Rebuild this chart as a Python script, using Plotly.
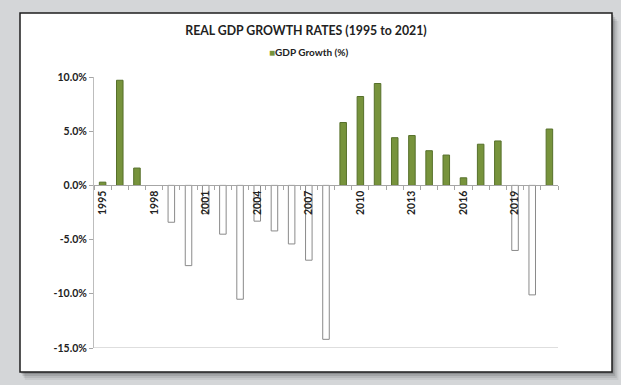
import plotly.graph_objects as go

# ---- data ----
years = list(range(1995, 2022))
growth = [0.3, 9.7, 1.6, 0.0, -3.4, -7.4, -2.6, -4.5, -10.5, -3.3,
          -4.2, -5.4, -6.9, -14.2, 5.8, 8.2, 9.4, 4.4, 4.6, 3.2,
          2.8, 0.7, 3.8, 4.1, -6.0, -10.1, 5.2]
label_years = [1995, 1998, 2001, 2004, 2007, 2010, 2013, 2016, 2019]
y_ticks = [-15, -10, -5, 0, 5, 10]
series_name = "GDP Growth (%)"
title_text = "REAL GDP GROWTH RATES (1995 to 2021)"

# ---- layout geometry (pixels) ----
W, H = 621, 385
L, R, T, B = 94, 558, 77, 348
PW, PH = R - L, B - T

def px(x):
    return (x - L) / PW

def py(y):
    return (B - y) / PH

ymin, ymax = min(y_ticks), max(y_ticks)
zero_pos = (0 - ymin) / (ymax - ymin)

green = "#77933C"
green_edge = "#56702a"
fills = [green if v > 0 else ("#ffffff" if v < 0 else "rgba(0,0,0,0)") for v in growth]
edges = [green_edge if v > 0 else ("#8a8a8a" if v < 0 else "rgba(0,0,0,0)") for v in growth]

fig = go.Figure()
fig.add_trace(go.Bar(
    x=years, y=growth, name=series_name, width=0.38,
    marker=dict(color=fills, line=dict(color=edges, width=1)),
    showlegend=False,
))

font_family = "Lato, Open Sans, sans-serif"
shapes = []
# soft shadow
for k, a in [(8, 0.06), (6, 0.08), (4, 0.11), (2, 0.15)]:
    shapes.append(dict(type="rect", xref="paper", yref="paper", layer="below",
                       x0=px(20 + k * 0.6), x1=px(612 + k * 0.8), y0=py(372 + k), y1=py(13 + k),
                       fillcolor=f"rgba(0,0,0,{a})", line=dict(width=0)))
# white panel
shapes.append(dict(type="rect", xref="paper", yref="paper", layer="below",
                   x0=px(20), x1=px(612), y0=py(372), y1=py(13),
                   fillcolor="#ffffff", line=dict(color="#1e1e1e", width=1.5)))
# bottom line at -15
shapes.append(dict(type="line", xref="paper", yref="y", layer="above",
                   x0=0, x1=1, y0=ymin, y1=ymin,
                   line=dict(color="#bdbdbd", width=1)))

legend_text = (f"<span style='color:{green}'>■</span>"
               f"<b>{series_name}</b>")

fig.update_layout(
    width=W, height=H,
    margin=dict(l=L, r=W - R, t=T, b=H - B, autoexpand=False),
    paper_bgcolor="#d4d6d8",
    plot_bgcolor="rgba(0,0,0,0)",
    shapes=shapes,
    showlegend=False,
    title=dict(text=title_text, x=px(306), xref="paper", xanchor="center",
               y=1 - 31 / H, yref="container", yanchor="middle",
               font=dict(family=font_family, size=12.3, color="#222222", weight="bold")),
    annotations=[dict(text=legend_text, xref="paper", yref="paper",
                      x=px(308), y=py(52), xanchor="center", yanchor="middle",
                      showarrow=False,
                      font=dict(family=font_family, size=10, color="#222222"))],
    xaxis=dict(range=[years[0] - 0.5, years[-1] + 0.5], anchor="free", position=zero_pos,
               showline=True, linecolor="#a6a6a6", linewidth=1,
               showgrid=False, zeroline=False,
               tickmode="array", tickvals=label_years, ticktext=[str(y) for y in label_years],
               ticks="", tickangle=-90,
               tickfont=dict(family=font_family, size=10.5, color="#222222", weight="bold"),
               minor=dict(ticks="outside", tickmode="linear", tick0=years[0] - 0.5, dtick=1,
                          ticklen=4, tickcolor="#a6a6a6", showgrid=False)),
    yaxis=dict(range=[ymin, ymax], showline=True, linecolor="#bdbdbd", linewidth=1,
               showgrid=False, zeroline=False,
               tickmode="array", tickvals=y_ticks,
               ticktext=[f"{v:.1f}%" for v in y_ticks],
               ticks="outside", ticklen=4, tickcolor="#a6a6a6",
               tickfont=dict(family=font_family, size=10.5, color="#222222", weight="bold")),
)

fig.write_html("out.html", config={"displayModeBar": False},
               post_script="document.body.style.margin='0';document.body.style.overflow='hidden';")
